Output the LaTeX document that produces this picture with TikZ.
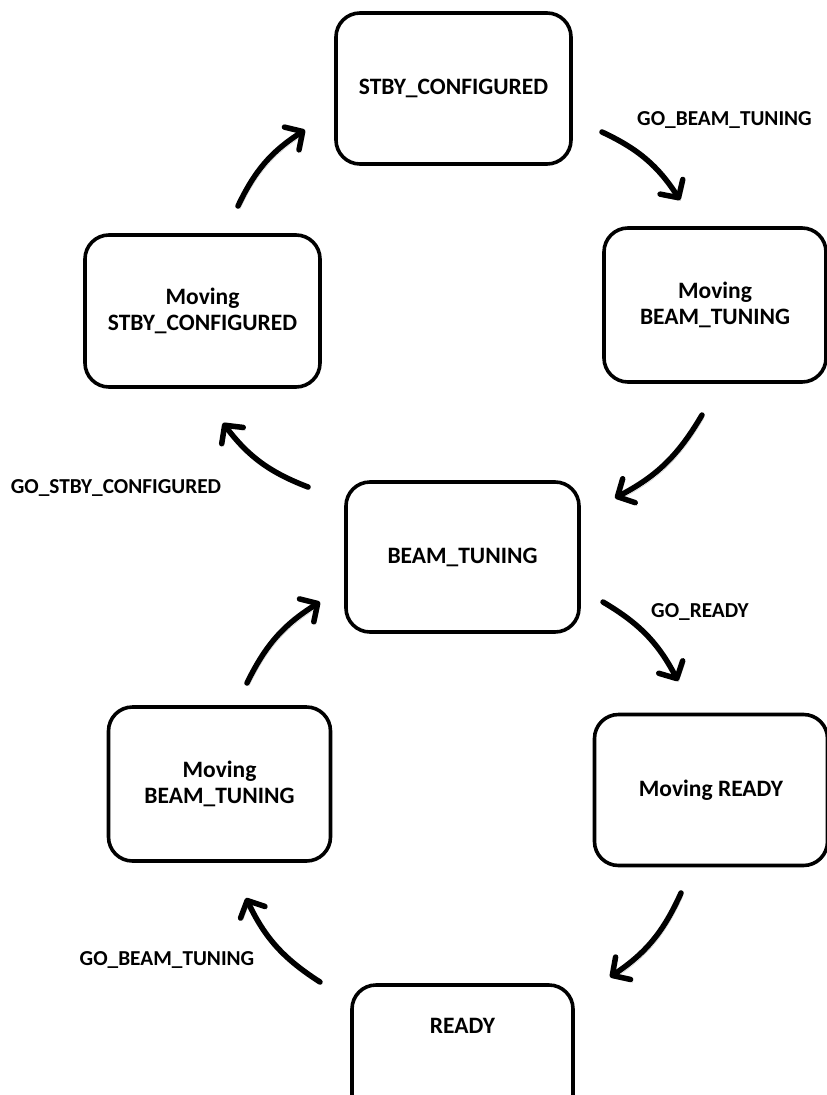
\documentclass[tikz,border=0pt]{standalone}
\usepackage{fontspec}
\setmainfont{Carlito}
\usetikzlibrary{arrows.meta}

\tikzset{
  state/.style={draw, line width=3.6pt, rounded corners=24pt, align=center,
    inner sep=0pt, font=\fontsize{23.5}{26}\selectfont\bfseries},
  flowlabel/.style={font=\fontsize{21.3}{24}\selectfont\bfseries, inner sep=0pt},
  flow/.style={line width=5.5pt, line cap=round,
    -{Straight Barb[length=13pt, width=27pt, line cap=round, line join=round]},
    bend left=16,
    preaction={draw=black!20, transform canvas={xshift=2pt, yshift=-3pt}}},
}

\begin{document}
\begin{tikzpicture}[x=1pt, y=-1pt]
  \useasboundingbox (0,0) rectangle (827,1095);
  \clip (0,0) rectangle (827,1095);

  % states
  \node[state, minimum width=235pt, minimum height=151pt] (stby) at (453.5,88.5) {STBY\_CONFIGURED};
  \node[state, minimum width=222pt, minimum height=154pt] (mvbtR) at (715,305) {Moving\\BEAM\_TUNING};
  \node[state, minimum width=235pt, minimum height=152pt] (mvstby) at (202.5,311) {Moving\\STBY\_CONFIGURED};
  \node[state, minimum width=233pt, minimum height=150pt] (bt) at (462.5,557) {BEAM\_TUNING};
  \node[state, minimum width=233pt, minimum height=151pt] (mvrdy) at (711,790) {Moving READY};
  \node[state, minimum width=222pt, minimum height=154pt] (mvbtL) at (219.5,784) {Moving\\BEAM\_TUNING};
  \node[state, minimum width=221pt, minimum height=150pt,
        label={[state, draw=none, anchor=center, yshift=-43pt]north:READY}] (rdy) at (462.5,1060) {};

  % free ends of the transition arrows
  \coordinate (a1) at (602,132);  \coordinate (b1) at (680,200);
  \coordinate (a2) at (702,415);  \coordinate (b2) at (615,498);
  \coordinate (a3) at (308,487);  \coordinate (b3) at (223,423);
  \coordinate (a4) at (238,206);  \coordinate (b4) at (305,130);
  \coordinate (a5) at (603,602);  \coordinate (b5) at (678,681);
  \coordinate (a6) at (681,893);  \coordinate (b6) at (610,977);
  \coordinate (a7) at (320,982);  \coordinate (b7) at (246,898);
  \coordinate (a8) at (247,683);  \coordinate (b8) at (320,602);

  % transitions
  \draw[flow] (a1) to (b1);
  \draw[flow] (a2) to (b2);
  \draw[flow] (a3) to (b3);
  \draw[flow] (a4) to (b4);
  \draw[flow] (a5) to (b5);
  \draw[flow] (a6) to (b6);
  \draw[flow] (a7) to (b7);
  \draw[flow] (a8) to (b8);

  % transition labels
  \node[flowlabel] (l1) at (724.5,120) {GO\_BEAM\_TUNING};
  \node[flowlabel] (l2) at (116,488) {GO\_STBY\_CONFIGURED};
  \node[flowlabel] (l3) at (700,612) {GO\_READY};
  \node[flowlabel] (l4) at (167,960) {GO\_BEAM\_TUNING};
\end{tikzpicture}
\end{document}
